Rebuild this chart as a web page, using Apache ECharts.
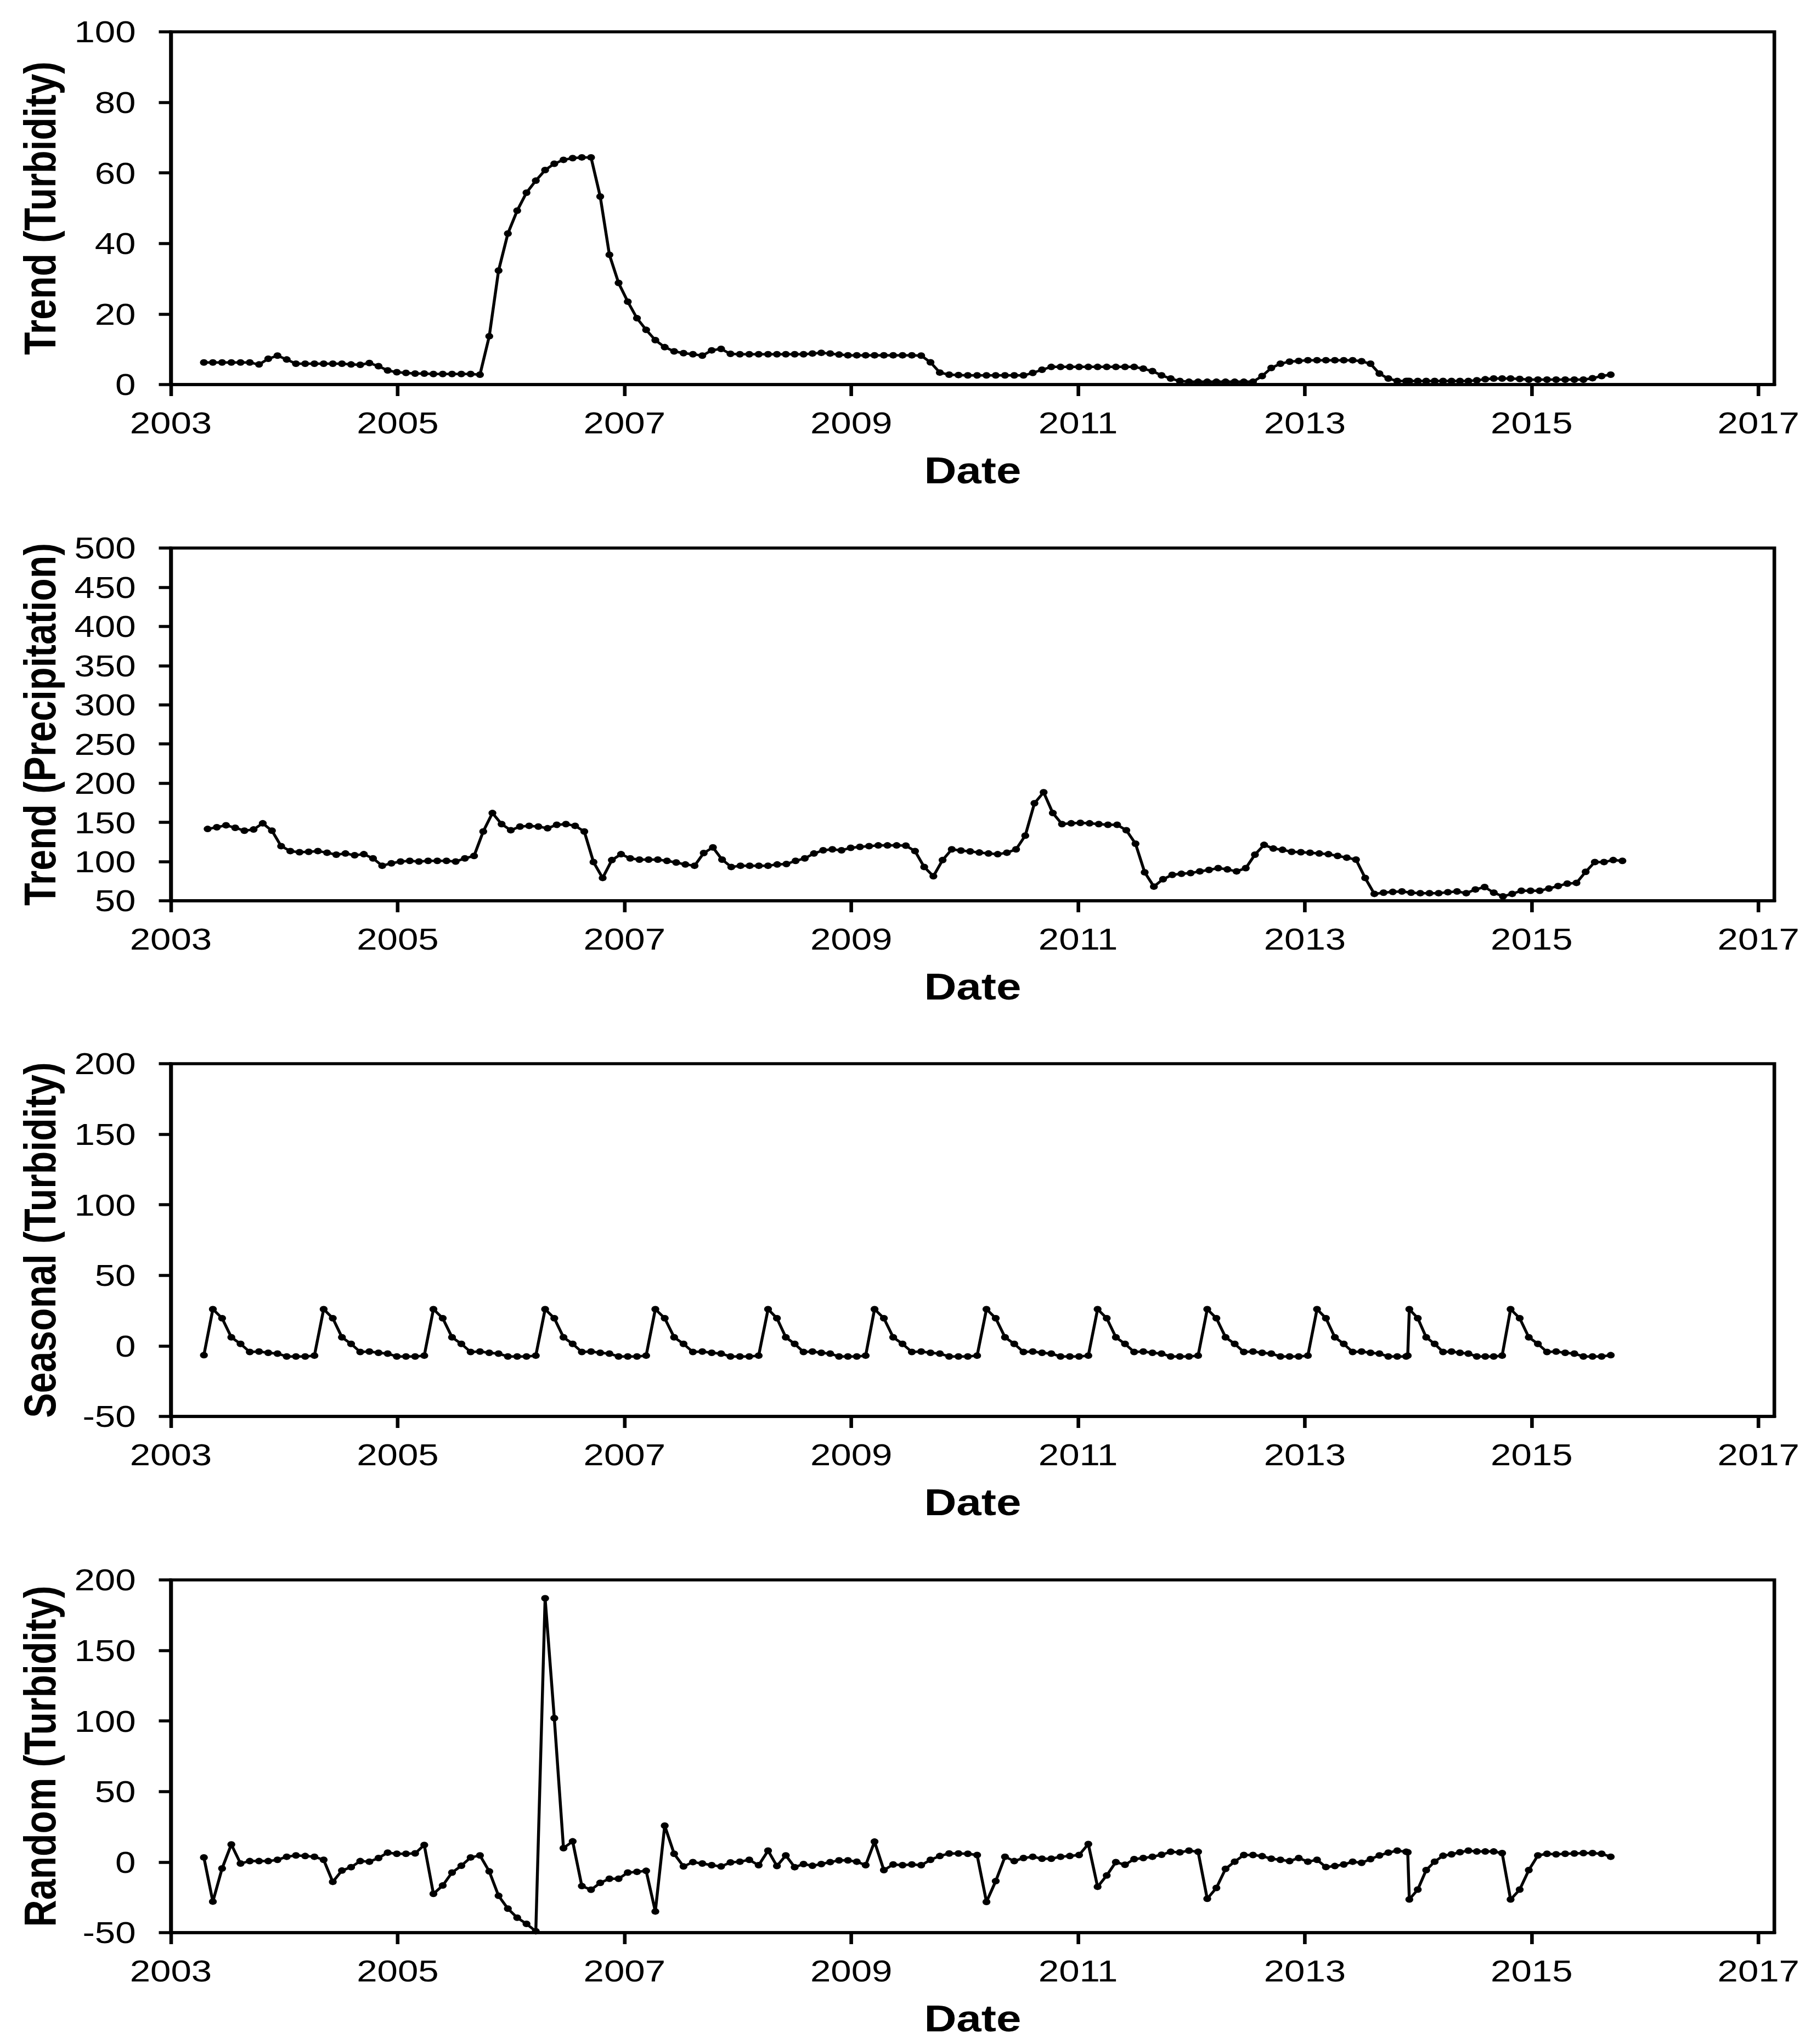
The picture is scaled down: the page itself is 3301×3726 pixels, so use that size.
<!DOCTYPE html>
<html>
<head>
<meta charset="utf-8">
<script src="https://cdn.jsdelivr.net/npm/echarts@6/dist/echarts.min.js"></script>
<style>
html,body{margin:0;padding:0;background:#fff;overflow:hidden;}
#wrap{width:3301px;height:3726px;overflow:hidden;}
#chart{width:2751px;height:3726px;transform:scaleX(1.2);transform-origin:0 0;}
</style>
</head>
<body>
<div id="wrap"><div id="chart"></div></div>
<script>
// ---- x axis tick labels (years) ----
const tickYears = [2003, 2005, 2007, 2009, 2011, 2013, 2015, 2017];

// ---- sample dates of the turbidity decomposition, read at seasonal peaks [index, decimal year] ----
const turbDateAnchors = [
  [0, 2003.291], [1, 2003.370], [13, 2004.347], [25, 2005.315], [37, 2006.300],
  [49, 2007.272], [61, 2008.266], [73, 2009.205], [85, 2010.192], [97, 2011.172],
  [109, 2012.139], [121, 2013.107], [131, 2013.893], [133, 2013.921], [145, 2014.814],
  [156, 2015.697]
];

// ---- precipitation sample dates: first and last sample ----
const precipFirstDate = 2003.324;
const precipLastDate = 2015.800;

// ---- Trend (Turbidity) ----
const trendTurbidity = [
  6.25, 6.25, 6.25, 6.25, 6.25, 6.25, 5.7, 7.3, 8.2, 7.1,
  5.9, 5.9, 5.9, 5.9, 5.9, 5.9, 5.7, 5.6, 6.1, 5.2,
  4.0, 3.5, 3.3, 3.1, 3.1, 3.0, 3.0, 3.0, 3.0, 3.0,
  2.8, 13.7, 32.3, 42.8, 49.3, 54.4, 57.8, 60.8, 62.6, 63.7,
  64.2, 64.4, 64.4, 53.3, 36.8, 28.8, 23.5, 18.8, 15.5, 12.6,
  10.6, 9.4, 8.9, 8.6, 8.2, 9.7, 10.1, 8.7, 8.6, 8.6,
  8.6, 8.6, 8.6, 8.6, 8.6, 8.6, 8.8, 9.0, 8.8, 8.5,
  8.3, 8.3, 8.3, 8.3, 8.3, 8.3, 8.3, 8.3, 8.2, 6.3,
  3.4, 2.8, 2.7, 2.6, 2.6, 2.6, 2.6, 2.6, 2.6, 2.6,
  3.3, 4.2, 5.0, 5.0, 5.0, 5.0, 5.0, 5.0, 5.0, 5.0,
  5.0, 5.0, 4.5, 3.8, 2.6, 1.7, 1.0, 0.8, 0.8, 0.8,
  0.8, 0.8, 0.8, 0.8, 0.8, 2.4, 4.7, 5.9, 6.5, 6.7,
  6.9, 6.9, 6.9, 6.9, 6.9, 6.9, 6.6, 5.9, 3.1, 1.7,
  1.0, 1.0, 1.0, 1.0, 1.0, 1.0, 1.0, 1.0, 1.0, 1.0,
  1.0, 1.2, 1.5, 1.7, 1.7, 1.7, 1.6, 1.4, 1.4, 1.4,
  1.4, 1.4, 1.4, 1.4, 1.8, 2.4, 2.8
];

// ---- Trend (Precipitation) ----
const trendPrecipitation = [
  141.6, 143.8, 146.3, 143.1, 139.4, 140.9, 148.8, 139.4, 119.7, 113.4,
  111.9, 112.5, 113.4, 111.3, 108.8, 110.3, 108.1, 109.4, 104.1, 94.7,
  97.8, 100.0, 100.9, 100.0, 100.9, 100.9, 100.9, 100.0, 104.1, 107.2,
  138.4, 161.9, 147.8, 140.0, 144.7, 145.6, 144.7, 142.5, 146.9, 147.8,
  145.6, 138.4, 99.4, 79.1, 101.9, 109.4, 104.1, 102.5, 102.5, 102.5,
  100.9, 98.8, 96.3, 94.7, 110.9, 118.1, 102.5, 93.1, 94.7, 94.7,
  94.7, 94.7, 96.3, 96.9, 100.9, 104.1, 110.3, 114.4, 115.6, 114.4,
  117.5, 118.8, 119.7, 120.6, 120.6, 120.6, 120.3, 113.4, 93.1, 81.3,
  101.9, 115.6, 114.0, 113.0, 111.5, 110.3, 109.4, 111.3, 115.6, 133.1,
  174.4, 188.4, 161.9, 147.8, 148.8, 149.4, 148.8, 147.8, 146.9, 146.9,
  140.0, 122.8, 86.3, 68.1, 77.5, 83.1, 84.4, 85.3, 87.5, 89.4,
  91.6, 90.0, 87.5, 91.6, 108.8, 121.3, 116.6, 115.0, 112.5, 111.9,
  111.3, 110.3, 109.4, 107.2, 105.0, 102.5, 79.1, 58.8, 60.3, 61.3,
  61.9, 60.3, 59.7, 59.7, 59.7, 60.9, 61.9, 59.7, 64.4, 67.5,
  60.3, 55.6, 58.8, 62.8, 62.8, 62.8, 65.6, 68.8, 71.9, 72.8,
  86.9, 99.4, 99.4, 101.9, 100.9
];

// ---- Seasonal (Turbidity) ----
const seasonalTurbidity = [
  -6.6,
  26.0, 19.6, 6.1, 1.4, -4.3, -4.0, -4.9, -5.5, -7.5, -7.5, -7.5, -6.9,
  26.0, 19.6, 6.1, 1.4, -4.3, -4.0, -4.9, -5.5, -7.5, -7.5, -7.5, -6.9,
  26.0, 19.6, 6.1, 1.4, -4.3, -4.0, -4.9, -5.5, -7.5, -7.5, -7.5, -6.9,
  26.0, 19.6, 6.1, 1.4, -4.3, -4.0, -4.9, -5.5, -7.5, -7.5, -7.5, -6.9,
  26.0, 19.6, 6.1, 1.4, -4.3, -4.0, -4.9, -5.5, -7.5, -7.5, -7.5, -6.9,
  26.0, 19.6, 6.1, 1.4, -4.3, -4.0, -4.9, -5.5, -7.5, -7.5, -7.5, -6.9,
  26.0, 19.6, 6.1, 1.4, -4.3, -4.0, -4.9, -5.5, -7.5, -7.5, -7.5, -6.9,
  26.0, 19.6, 6.1, 1.4, -4.3, -4.0, -4.9, -5.5, -7.5, -7.5, -7.5, -6.9,
  26.0, 19.6, 6.1, 1.4, -4.3, -4.0, -4.9, -5.5, -7.5, -7.5, -7.5, -6.9,
  26.0, 19.6, 6.1, 1.4, -4.3, -4.0, -4.9, -5.5, -7.5, -7.5, -7.5, -6.9,
  26.0, 19.6, 6.1, 1.4, -4.3, -4.0, -4.9, -5.5, -7.5, -7.5, -7.5, -6.9,
  26.0, 19.6, 6.1, 1.4, -4.3, -4.0, -4.9, -5.5, -7.5, -7.5, -7.5, -6.9,
  26.0, 19.6, 6.1, 1.4, -4.3, -4.0, -4.9, -5.5, -7.5, -7.5, -7.5, -6.6
];

// ---- Random (Turbidity) ----
const randomTurbidity = [
  3.3, -28, -4.5, 12.5, -1, 0.7, 0.7, 0.7, 1.6, 3.8,
  4.7, 4.3, 3.8, 1.6, -14, -6, -3.6, 0.7, 0.3, 2.9,
  6.7, 5.9, 5.9, 6.2, 12.1, -22.5, -16.6, -7.4, -2.6, 3.3,
  4.7, -6.6, -23.9, -33, -39.4, -43.8, -49, 187, 102, 9.9,
  14.7, -17, -19.6, -14.7, -11.8, -11.8, -7.4, -6.9, -6.2, -35,
  25.8, 5.9, -3.1, 0, -1, -2.2, -3.1, -0.2, 0.3, 1.6,
  -2.2, 8.1, -2.8, 4.7, -3.6, -1.4, -2.6, -1.4, 0, 1.2,
  1.2, 0.3, -2.2, 14.5, -5.7, -1.7, -2.2, -1.7, -2.2, 1.6,
  4.3, 6.1, 6.1, 5.9, 5.0, -28.2,
  -13.5, 3.8, 0.7, 2.9, 3.8, 2.4, 2.4, 3.8, 4.3, 5.0,
  12.8, -17.5, -9.5, 0, -1.9, 2.1, 2.9, 3.8, 5.2, 7.3,
  6.9, 8.1, 7.3, -26, -18.3, -4.8, 0.3, 5.0, 5.0, 4.2,
  2.4, 1.6, 0.7, 2.9, 0.3, 1.6, -3.5, -2.8, -1.7, 0.3,
  -0.5, 2.1, 4.7, 6.7, 8.1, 7.3, 7.0, -26.5, -19.5, -5.7,
  0.3, 4.5, 5.5, 7.0, 8.1, 7.5, 7.5, 7.5, 6.4, -26.5,
  -19.5, -5.7, 4.7, 5.9, 5.5, 5.9, 6.1, 6.4, 6.4, 5.9, 3.8
];

// ---- build sample dates ----
function datesFromAnchors(anchors, n) {
  const out = new Array(n);
  for (let a = 0; a < anchors.length - 1; a++) {
    const [i0, d0] = anchors[a], [i1, d1] = anchors[a + 1];
    for (let i = i0; i <= i1; i++) out[i] = d0 + (d1 - d0) * (i - i0) / (i1 - i0);
  }
  return out;
}
const turbDates = datesFromAnchors(turbDateAnchors, trendTurbidity.length);
const precipDates = datesFromAnchors([[0, precipFirstDate], [trendPrecipitation.length - 1, precipLastDate]], trendPrecipitation.length);
const pairs = (d, v) => v.map((y, i) => [d[i], y]);

// The reference figure is horizontally stretched by ~1.2; the chart is laid out
// in unstretched space and the container is scaled by SX.
const SX = 1.2;
const FONT = '"Liberation Sans", Arial, sans-serif';
const panels = [
  {name: 'Trend (Turbidity)', min: 0, max: 100, interval: 20, data: pairs(turbDates, trendTurbidity)},
  {name: 'Trend (Precipitation)', min: 50, max: 500, interval: 50, data: pairs(precipDates, trendPrecipitation)},
  {name: 'Seasonal (Turbidity)', min: -50, max: 200, interval: 50, data: pairs(turbDates, seasonalTurbidity)},
  {name: 'Random (Turbidity)', min: -50, max: 200, interval: 50, data: pairs(turbDates, randomTurbidity)}
];
const gridTops = [58, 999, 1939, 2880];
const LW = 5.5;

const option = {
  animation: false,
  backgroundColor: '#fff',
  grid: panels.map((p, i) => ({
    left: 311.5 / SX, right: 67 / SX, top: gridTops[i], height: 643,
    show: true, borderColor: '#000', borderWidth: LW, backgroundColor: 'transparent'
  })),
  xAxis: panels.map((p, i) => ({
    type: 'value', gridIndex: i, min: 2003, max: 2017.14,
    axisLine: {show: true, onZero: false, lineStyle: {color: '#000', width: LW}},
    axisTick: {show: true, inside: false, length: 21, customValues: tickYears, lineStyle: {color: '#000', width: LW}},
    axisLabel: {show: true, customValues: tickYears, formatter: v => String(Math.round(v)), fontSize: 56, margin: 42, color: '#000', fontFamily: FONT},
    splitLine: {show: false},
    name: 'Date', nameLocation: 'middle', nameGap: 122,
    nameTextStyle: {fontSize: 68, fontWeight: 'bold', color: '#000', fontFamily: FONT, lineHeight: 68}
  })),
  yAxis: panels.map((p, i) => ({
    type: 'value', gridIndex: i, min: p.min, max: p.max, interval: p.interval,
    axisLine: {show: true, onZero: false, lineStyle: {color: '#000', width: LW}},
    axisTick: {show: true, inside: false, length: 22 / SX, lineStyle: {color: '#000', width: LW}},
    axisLabel: {show: true, fontSize: 56, margin: 64 / SX, color: '#000', fontFamily: FONT},
    splitLine: {show: false},
    name: p.name, nameLocation: 'middle', nameRotate: 90, nameGap: 165,
    nameTextStyle: {fontSize: 68, fontWeight: 'bold', color: '#000', fontFamily: FONT, lineHeight: 68}
  })),
  series: panels.map((p, i) => ({
    type: 'line', xAxisIndex: i, yAxisIndex: i, data: p.data,
    symbol: 'circle', symbolSize: 12, showSymbol: true,
    lineStyle: {color: '#000', width: 4.5},
    itemStyle: {color: '#000'},
    silent: true
  }))
};

const chart = echarts.init(document.getElementById('chart'), null, {renderer: 'svg'});
chart.setOption(option);
</script>
</body>
</html>
